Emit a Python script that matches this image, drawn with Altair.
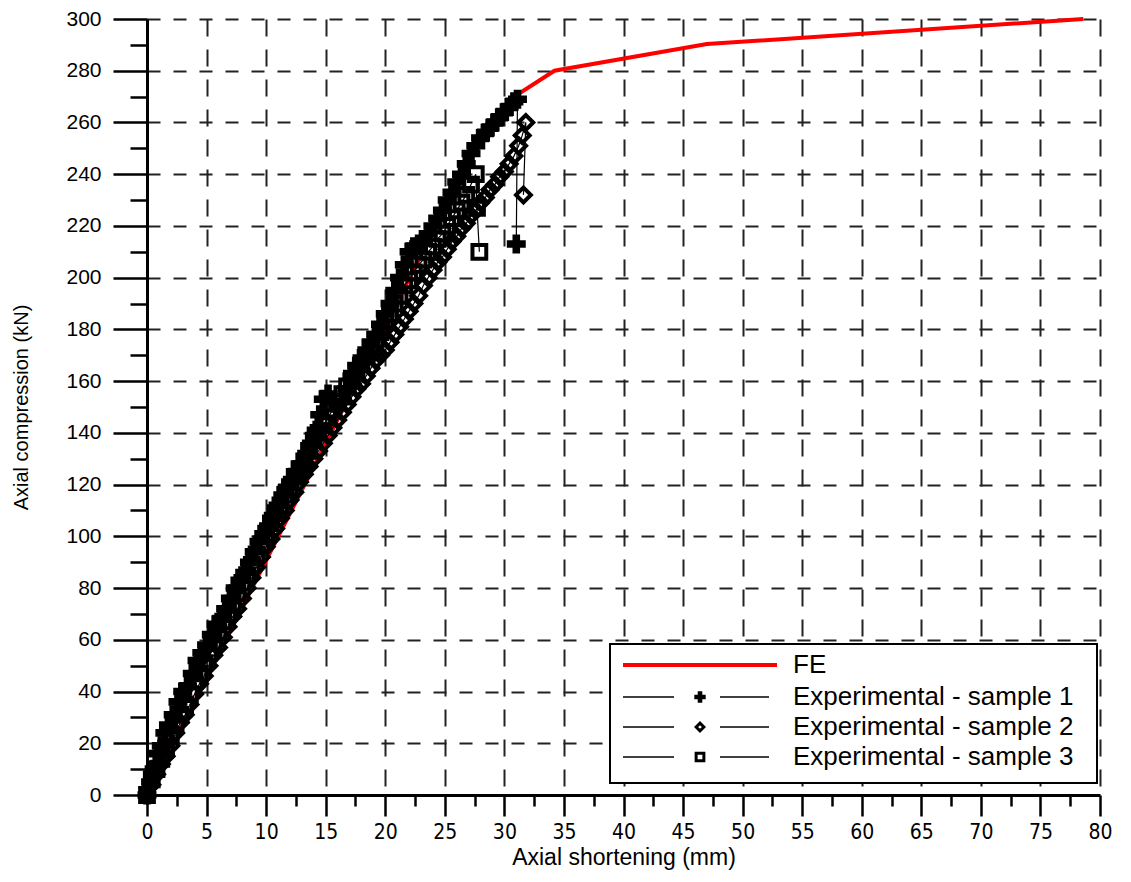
import altair as alt
import pandas as pd

# ---------------- data ----------------
fe_x = [0, 25.8, 27.2, 28.5, 29.5, 31.0, 34.2, 47.0, 78.6]
fe_y = [0, 234, 248, 259, 264, 270.5, 280, 290.3, 300]

s1_x = [0, 0.3, 0.6, 0.9, 1.2, 1.5, 1.8, 2.2, 2.6, 3.0, 3.4, 3.8, 4.2, 4.6, 5.0, 5.4, 5.8, 6.2, 6.6, 7.0,
        7.4, 7.8, 8.2, 8.6, 9.0, 9.4, 9.8, 10.2, 10.6, 11.0, 11.4, 11.8, 12.2, 12.6, 13.0, 13.4, 13.8, 14.2,
        14.5, 14.8, 15.2, 15.6, 16.0, 16.4, 16.8, 17.2, 17.6, 18.0, 18.4, 18.8, 19.2, 19.6, 20.0, 20.4, 20.8,
        21.2, 21.6, 22.0, 22.4, 22.8, 23.2, 23.6, 24.0, 24.4, 24.8, 25.2, 25.6, 26.0, 26.4, 26.8, 27.2, 27.6,
        28.0, 28.4, 28.8, 29.2, 29.6, 30.0, 30.4, 30.8, 31.1, 31.0]
s1_y = [0, 5, 10, 16, 19, 24, 27, 31, 36, 40, 42, 47, 52, 55, 58, 62, 66, 68, 72, 76,
        80, 83, 86, 90, 94, 98, 101, 104, 108, 112, 116, 119, 122, 125, 128, 132, 136, 141,
        147, 153, 155, 152, 150, 152, 157, 162, 166, 168, 171, 175, 178, 182, 186, 190, 195,
        200, 205, 210, 212, 213, 214, 217, 220, 223, 226, 230, 233, 237, 240, 244, 248, 251,
        254, 256, 258, 260, 262, 264, 266, 268, 269, 213]

s2_x = [0, 0.4, 0.8, 1.2, 1.6, 2.0, 2.4, 2.8, 3.2, 3.6, 4.0, 4.4, 4.8, 5.2, 5.6, 6.0, 6.4, 6.8, 7.2, 7.6,
        8.0, 8.4, 8.8, 9.2, 9.6, 10.0, 10.4, 10.8, 11.2, 11.6, 12.0, 12.4, 12.8, 13.2, 13.6, 14.0, 14.4, 14.8,
        15.2, 15.6, 16.0, 16.4, 16.8, 17.2, 17.6, 18.0, 18.4, 18.8, 19.2, 19.6, 20.0, 20.4, 20.8, 21.2, 21.6,
        22.0, 22.4, 22.8, 23.2, 23.6, 24.0, 24.4, 24.8, 25.2, 25.6, 26.0, 26.4, 26.8, 27.2, 27.6, 28.0, 28.4,
        28.8, 29.2, 29.6, 30.0, 30.4, 30.8, 31.2, 31.5, 31.8, 31.6]
s2_y = [0, 4, 8, 12, 15, 19, 24, 28, 31, 35, 39, 43, 46, 50, 54, 57, 61, 65, 69, 72,
        76, 80, 84, 88, 92, 96, 99, 103, 107, 110, 114, 117, 121, 124, 127, 130, 133, 136,
        139, 142, 145, 148, 151, 154, 157, 159, 162, 165, 168, 170, 172, 175, 178, 181, 184,
        187, 190, 193, 197, 200, 203, 206, 208, 211, 214, 216, 219, 221, 224, 226, 229, 231,
        234, 236, 239, 241, 244, 247, 251, 255, 260, 232]

s3_x = [0, 0.4, 0.8, 1.2, 1.6, 2.0, 2.4, 2.8, 3.2, 3.6, 4.0, 4.4, 4.8, 5.2, 5.6, 6.0, 6.4, 6.8, 7.2, 7.6,
        8.0, 8.4, 8.8, 9.2, 9.6, 10.0, 10.4, 10.8, 11.2, 11.6, 12.0, 12.4, 12.8, 13.2, 13.6, 14.0, 14.4, 14.8,
        15.2, 15.6, 16.0, 16.4, 16.8, 17.2, 17.6, 18.0, 18.4, 18.8, 19.2, 19.6, 20.0, 20.4, 20.8, 21.2, 21.6,
        22.0, 22.4, 22.8, 23.2, 23.6, 24.0, 24.4, 24.8, 25.2, 25.6, 26.0, 26.4, 26.8, 27.2, 27.6, 27.7, 27.9]
s3_y = [0, 6, 10, 14, 18, 23, 27, 31, 35, 39, 44, 47, 51, 55, 59, 63, 67, 70, 74, 78,
        82, 85, 89, 93, 97, 101, 105, 109, 112, 116, 119, 123, 126, 129, 133, 137, 140, 143,
        146, 149, 152, 155, 158, 161, 164, 167, 170, 173, 176, 179, 183, 186, 190, 193, 197,
        199, 202, 205, 207, 210, 212, 215, 217, 220, 223, 226, 229, 232, 236, 240, 227, 210]

x_major = list(range(0, 81, 5))
x_minor = [v + 2.5 for v in range(0, 80, 5)]
y_major = list(range(0, 301, 20))
y_minor = list(range(10, 300, 20))

legend_labels = ["FE", "Experimental - sample 1", "Experimental - sample 2", "Experimental - sample 3"]

# ---------------- frames ----------------
fe_df = pd.DataFrame({"x": fe_x, "y": fe_y})


def sample_df(xs, ys):
    return pd.DataFrame({"x": xs, "y": ys, "i": list(range(len(xs)))})


d1, d2, d3 = sample_df(s1_x, s1_y), sample_df(s2_x, s2_y), sample_df(s3_x, s3_y)

XS = alt.Scale(domain=[0, 80], nice=False, zero=False)
YS = alt.Scale(domain=[0, 300], nice=False, zero=False)
NARROW = "Liberation Sans Narrow, DejaVu Sans Condensed, Arial Narrow, sans-serif"
SANS = "Liberation Sans, Arial, sans-serif"

x_axis = alt.Axis(values=x_major, tickSize=21, tickWidth=2.5, tickColor="black",
                  domainWidth=3, domainColor="black", labelFont=NARROW, labelFontSize=21,
                  labelColor="black", labelPadding=5, labelFlush=False, labelOverlap=False,
                  grid=True, gridDash=[17, 13], gridColor="#222222", gridWidth=2,
                  title="Axial shortening (mm)", titleFont=SANS, titleFontSize=23,
                  titleFontWeight="normal", titleColor="black", titlePadding=4)
y_axis = alt.Axis(values=y_major, tickSize=34, tickWidth=2.5, tickColor="black",
                  domainWidth=3, domainColor="black", labelFont=SANS, labelFontSize=21,
                  labelColor="black", labelPadding=12, labelFlush=False, labelOverlap=False,
                  grid=True, gridDash=[13, 13], gridColor="#222222", gridWidth=2,
                  title="Axial compression (kN)", titleFont=SANS, titleFontSize=20,
                  titleFontWeight="normal", titleColor="black", titlePadding=34)

fe_line = alt.Chart(fe_df).mark_line(color="#ff0000", strokeWidth=4).encode(
    x=alt.X("x:Q", scale=XS, axis=x_axis),
    y=alt.Y("y:Q", scale=YS, axis=y_axis),
)

minor_axes = alt.Chart(fe_df).mark_point(opacity=0).encode(
    x=alt.X("x:Q", scale=XS, axis=alt.Axis(values=x_minor, tickSize=11, tickWidth=2.5, tickColor="black",
                                           labels=False, domain=False, grid=False, title=None,
                                           orient="bottom")),
    y=alt.Y("y:Q", scale=YS, axis=alt.Axis(values=y_minor, tickSize=17, tickWidth=2.5, tickColor="black",
                                           labels=False, domain=False, grid=False, title=None,
                                           orient="left")),
)


def exp_layers(df, shape, filled, size):
    enc = dict(x=alt.X("x:Q", scale=XS, axis=None), y=alt.Y("y:Q", scale=YS, axis=None))
    line = alt.Chart(df).mark_line(color="black", strokeWidth=1.2).encode(order="i:Q", **enc)
    if filled:
        pts = alt.Chart(df).mark_point(shape=shape, filled=True, color="black", size=size, opacity=1).encode(**enc)
    else:
        pts = alt.Chart(df).mark_point(shape=shape, filled=False, color="black", strokeWidth=4,
                                       size=size, opacity=1).encode(**enc)
    return [line, pts]


layers = [fe_line, minor_axes]
layers += exp_layers(d1, "cross", True, 360)
layers += exp_layers(d2, "diamond", False, 220)
layers += exp_layers(d3, "square", False, 190)

# ---------------- legend (drawn box) ----------------
one = pd.DataFrame({"k": [0]})
layers.append(alt.Chart(one).mark_rect(fill="white", stroke="black", strokeWidth=2).encode(
    x=alt.value(463), x2=alt.value(950), y=alt.value(625), y2=alt.value(764)))

row_y = [646, 678, 708, 738]
shapes = [None, ("cross", True, 130), ("diamond", False, 60), ("square", False, 60)]
for lab, yy, shp in zip(legend_labels, row_y, shapes):
    ldf = pd.DataFrame({"label": [lab]})
    if shp is None:
        layers.append(alt.Chart(ldf).mark_rule(color="#ff0000", strokeWidth=4).encode(
            x=alt.value(476), x2=alt.value(630), y=alt.value(yy)))
    else:
        layers.append(alt.Chart(ldf).mark_rule(color="black", strokeWidth=1.5).encode(
            x=alt.value(476), x2=alt.value(527), y=alt.value(yy)))
        layers.append(alt.Chart(ldf).mark_rule(color="black", strokeWidth=1.5).encode(
            x=alt.value(573), x2=alt.value(622), y=alt.value(yy)))
        s, f, sz = shp
        if f:
            layers.append(alt.Chart(ldf).mark_point(shape=s, filled=True, color="black", size=sz, opacity=1).encode(
                x=alt.value(553), y=alt.value(yy)))
        else:
            layers.append(alt.Chart(ldf).mark_point(shape=s, filled=False, color="black", strokeWidth=3,
                                                    size=sz, opacity=1).encode(x=alt.value(553), y=alt.value(yy)))
    layers.append(alt.Chart(ldf).mark_text(align="left", baseline="middle", font=SANS, fontSize=26,
                                           color="black").encode(
        x=alt.value(646), y=alt.value(yy), text="label:N"))

chart = alt.layer(*layers).resolve_axis(x="independent", y="independent").properties(
    width=953, height=776,
    padding={"left": 139, "top": 11, "right": 15, "bottom": 77},
    autosize=alt.AutoSizeParams(type="none"),
).configure_view(stroke=None)

chart.save("out.html", embed_options={"renderer": "svg", "actions": False})
